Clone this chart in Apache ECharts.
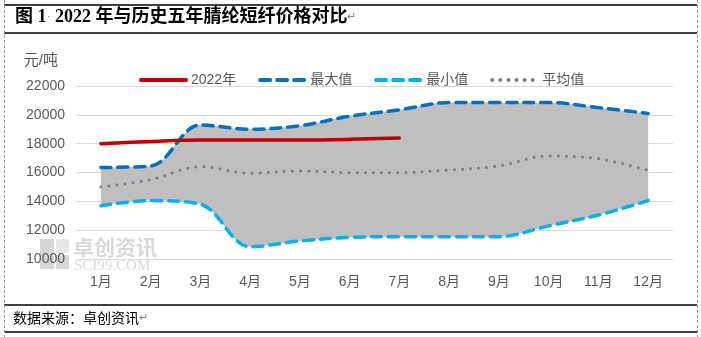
<!DOCTYPE html>
<html><head><meta charset="utf-8">
<script src="https://cdn.jsdelivr.net/npm/echarts@6/dist/echarts.min.js"></script>
<style>html,body{margin:0;padding:0;background:#fff}#c{width:701px;height:337px}</style>
</head><body><div id="c"></div>
<script>
const months = ['1月','2月','3月','4月','5月','6月','7月','8月','9月','10月','11月','12月'];
const y2022 = [18000,18150,18250,18250,18250,18300,18400];
const maxV = [16350,16450,19300,19000,19250,19900,20350,20850,20850,20850,20500,20100];
const minV = [13700,14050,13800,10850,11250,11500,11550,11550,11550,12300,13050,14050];
const avgV = [15000,15500,16400,15950,16100,16000,16000,16170,16450,17150,16950,16150];
const bandV = maxV.map((v,i)=>v-minV[i]);

const FONT = "'Liberation Sans','Noto Sans CJK SC',sans-serif";
const SM = 0.35;
const chart = echarts.init(document.getElementById('c'));
chart.setOption({
  animation:false,
  backgroundColor:'#fff',
  textStyle:{fontFamily:FONT},
  grid:{left:76,right:28,top:86,bottom:78},
  legend:{
    left:134, top:68, itemWidth:45, itemHeight:14, itemGap:22,
    data:['2022年','最大值','最小值','平均值'],
    itemStyle:{opacity:0},
    lineStyle:{width:4},
    textStyle:{fontSize:14,color:'#595959',fontFamily:FONT}
  },
  xAxis:{
    type:'category', data:months, boundaryGap:true,
    axisLine:{show:false}, axisTick:{show:false},
    axisLabel:{fontSize:14,color:'#595959',margin:16,fontFamily:FONT}
  },
  yAxis:{
    type:'value', min:10000, max:22000, interval:2000,
    name:'元/吨', nameLocation:'end', nameGap:18,
    nameTextStyle:{fontSize:15,color:'#595959',align:'right',padding:[0,18,0,0]},
    axisLine:{show:false}, axisTick:{show:false},
    axisLabel:{fontSize:14,color:'#595959',margin:11,formatter:v=>String(v)},
    splitLine:{lineStyle:{color:'#D9D9D9',width:1}}
  },
  series:[
    {name:'minBase',type:'line',data:minV,stack:'band',smooth:SM,symbol:'none',
     lineStyle:{opacity:0},z:1,silent:true},
    {name:'band',type:'line',data:bandV,stack:'band',smooth:SM,symbol:'none',
     lineStyle:{opacity:0},areaStyle:{color:'#BFBFBF',opacity:1},z:1,silent:true},
    {name:'平均值',type:'line',data:avgV,smooth:SM,symbol:'none',z:3,
     lineStyle:{color:'#808080',width:3,type:[0.1,8],cap:'round'},itemStyle:{color:'#808080'}},
    {name:'最小值',type:'line',data:minV,smooth:SM,symbol:'none',z:3,
     lineStyle:{color:'#00B0F0',width:3.5,type:[10,7],cap:'round'},itemStyle:{color:'#00B0F0'}},
    {name:'最大值',type:'line',data:maxV,smooth:SM,symbol:'none',z:3,
     lineStyle:{color:'#0070C0',width:3.5,type:[10,7],cap:'round'},itemStyle:{color:'#0070C0'}},
    {name:'2022年',type:'line',data:y2022,smooth:SM,symbol:'none',z:4,
     lineStyle:{color:'#C00000',width:3.5,cap:'round'},itemStyle:{color:'#C00000'}}
  ],
  graphic:[
    {type:'line',shape:{x1:4,y1:5,x2:697,y2:5},style:{stroke:'#000',lineWidth:1.5},z:10},
    {type:'line',shape:{x1:4,y1:33,x2:697,y2:33},style:{stroke:'#000',lineWidth:1.5},z:10},
    {type:'line',shape:{x1:4,y1:305,x2:697,y2:305},style:{stroke:'#000',lineWidth:1.5},z:10},
    {type:'line',shape:{x1:4,y1:332,x2:697,y2:332},style:{stroke:'#000',lineWidth:1.5},z:10},
    {type:'line',shape:{x1:4.5,y1:0,x2:4.5,y2:337},style:{stroke:'#999',lineWidth:1,lineDash:[3,2]},z:10},
    {type:'line',shape:{x1:697.5,y1:0,x2:697.5,y2:337},style:{stroke:'#999',lineWidth:1,lineDash:[3,2]},z:10},
    {type:'text',left:15,top:8,z:10,style:{
      text:'{b|图 1}{d|·}{b| 2022 年与历史五年腈纶短纤价格对比}{r|↵}',
      rich:{
        b:{fontSize:18,fontWeight:'bold',fill:'#000',fontFamily:"'Liberation Serif','Noto Sans CJK SC',serif"},
        d:{fontSize:12,fill:'#888'},
        r:{fontSize:11,fill:'#888'}
      }}},
    {type:'text',left:13,top:311,z:10,style:{
      text:'{a|数据来源：卓创资讯}{r|↵}',
      rich:{a:{fontSize:14,fill:'#000',fontFamily:"'Noto Sans CJK SC',sans-serif"},r:{fontSize:11,fill:'#888'}}}},
    {type:'group',left:40,top:237,z:0,children:[
      {type:'rect',shape:{x:0,y:1,width:14,height:30},style:{fill:'#D6D6D6'}},
      {type:'rect',shape:{x:16,y:1,width:13,height:14},style:{fill:'#E6E6E6'}},
      {type:'rect',shape:{x:16,y:17,width:13,height:14},style:{fill:'#D6D6D6'}},
      {type:'text',x:33,y:-1,style:{text:'卓创资讯',fontSize:21,fontWeight:'bold',fill:'#D9D9D9',textVerticalAlign:'top',fontFamily:"'Noto Sans CJK SC',sans-serif"}},
      {type:'text',x:34,y:21,style:{text:'SCI99.COM',fontSize:15,fill:'#D9D9D9',textVerticalAlign:'top',fontFamily:"'Liberation Serif',serif"}}
    ]}
  ]
});
</script></body></html>
